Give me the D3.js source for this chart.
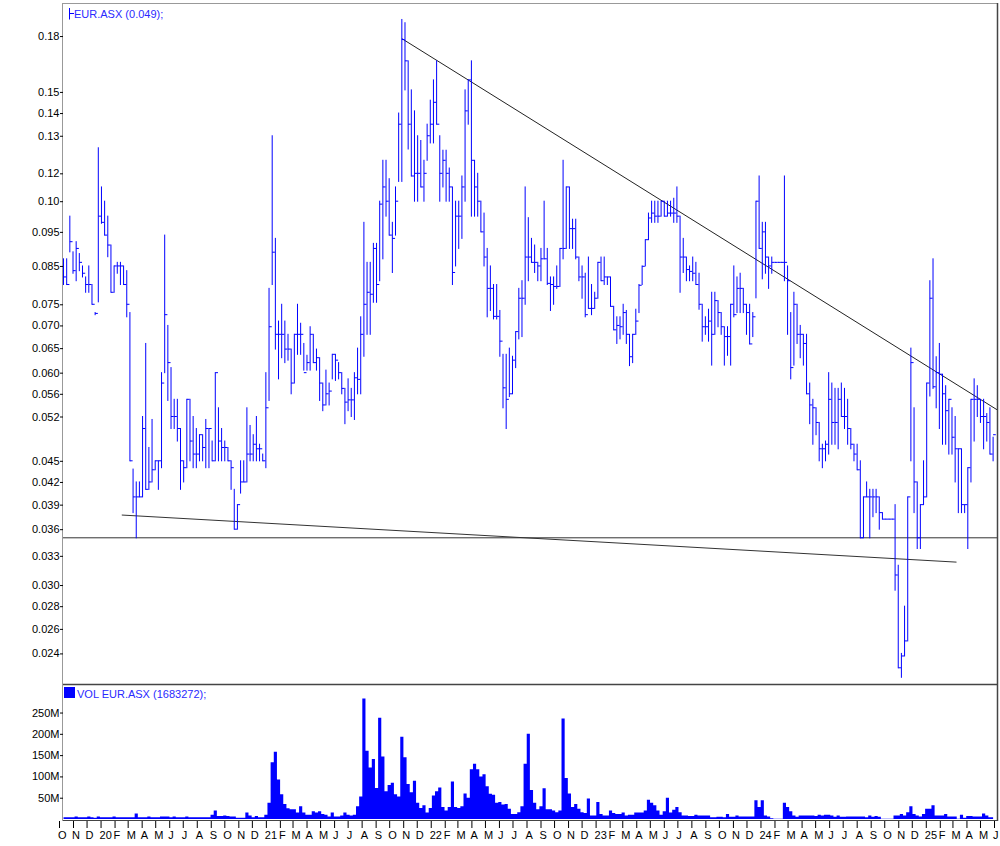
<!DOCTYPE html>
<html><head><meta charset="utf-8">
<script src="https://cdn.jsdelivr.net/npm/d3@7"></script>
<style>
body{margin:0;background:#fff}
svg{display:block}
text{font-family:"Liberation Sans",Arial,sans-serif;font-size:11px}
</style>
</head><body>
<svg id="c" width="1000" height="846"></svg>
<script>
// ---------- DATA (weekly bars, starting week of 2019-10-11) ----------
const firstWeek = [2019, 9, 11];
const highs = [
.087,.087,.100,.089,.092,.0885,.085,.082,.085,.080,
.073,.125,.110,.105,.100,.091,.085,.086,.086,.085,
.0837,.073,.0438,.042,.042,.052,.066,.047,.0515,.045,
.045,.060,.094,.070,.061,.055,.055,.050,.045,.055,
.055,.052,.050,.049,.049,.0515,.050,.048,.060,.0535,
.050,.048,.047,.045,.041,.039,.045,.045,.0535,.0505,
.049,.052,.0475,.046,.060,.079,.130,.093,.071,.075,
.071,.068,.0648,.068,.075,.0705,.066,.0635,.0697,.068,
.0648,.063,.058,.0605,.058,.0637,.0637,.062,.060,.057,
.0588,.057,.060,.065,.072,.098,.086,.086,.0915,.0915,
.105,.120,.120,.113,.098,.110,.140,.190,.188,.166,
.151,.141,.130,.128,.120,.135,.146,.156,.166,.130,
.124,.124,.117,.110,.105,.105,.114,.151,.156,.166,
.120,.115,.105,.101,.090,.085,.080,.080,.0735,.0637,
.0637,.065,.0633,.0686,.079,.081,.110,.0995,.093,.091,
.086,.090,.105,.090,.082,.082,.085,.090,.120,.110,
.110,.099,.099,.0875,.085,.083,.0875,.080,.078,.086,
.0875,.0875,.082,.082,.0745,.072,.072,.075,.0735,.068,
.068,.0738,.080,.085,.0926,.101,.105,.105,.105,.105,
.105,.105,.105,.106,.110,.100,.093,.0875,.085,.0875,
.086,.083,.075,.072,.0738,.078,.078,.0759,.073,.0697,
.0697,.075,.085,.082,.083,.079,.075,.075,.073,.105,
.114,.098,.098,.0875,.0875,.086,.086,.086,.114,.085,
.073,.078,.075,.070,.068,.068,.058,.055,.0535,.051,
.0475,.048,.060,.058,.057,.057,.058,.057,.055,.050,
.0475,.0475,.045,.040,.042,.041,.041,.041,.040,.038,
.0372,.0372,.0372,.039,.032,.024,.028,.040,.065,.0535,
.042,.039,.045,.058,.081,.087,.0632,.066,.0597,.0575,
.055,.0535,.052,.0468,.0468,.039,.044,.055,.0588,.0575,
.055,.055,.0525,.0535,.0486];
const lows = [
.080,.080,.089,.083,.081,.0837,.082,.078,.078,.075,
.0725,.0756,.0977,.094,.0876,.078,.078,.083,.080,.080,
.072,.045,.038,.035,.040,.040,.041,.041,.042,.0437,
.041,.044,.060,.0548,.050,.050,.048,.041,.042,.044,
.045,.044,.044,.045,.045,.044,.044,.045,.045,.045,
.045,.045,.045,.041,.036,.036,.0405,.042,.042,.045,
.045,.045,.045,.045,.044,.0548,.080,.0648,.0588,.063,
.062,.0625,.056,.058,.0637,.0637,.0605,.0605,.0605,.062,
.0605,.0548,.053,.054,.054,.0588,.0585,.0588,.056,.0508,
.053,.052,.0515,.056,.056,.0633,.068,.068,.0755,.0755,
.081,.087,.100,.094,.0832,.094,.112,.112,.151,.1245,
.114,.105,.105,.110,.105,.120,.127,.127,.135,.105,
.110,.105,.105,.080,.085,.090,.093,.105,.135,.100,
.100,.100,.095,.085,.072,.0735,.0715,.0715,.0633,.0535,
.050,.0555,.056,.061,.067,.0675,.075,.081,.086,.0832,
.081,.081,.087,.080,.0735,.075,.079,.0795,.087,.090,
.090,.090,.087,.081,.0765,.072,.074,.0725,.074,.0765,
.081,.080,.080,.0745,.069,.066,.067,.068,.066,.0614,
.062,.068,.073,.080,.085,.0926,.098,.098,.098,.100,
.100,.100,.100,.098,.098,.078,.0832,.081,.081,.081,
.080,.0738,.0665,.068,.0665,.0615,.068,.0697,.068,.0615,
.0635,.0615,.072,.073,.073,.073,.068,.0659,.0675,.0766,
.090,.0815,.083,.079,.083,.086,.086,.086,.081,.068,
.0588,.0615,.066,.063,.0615,.056,.0508,.0475,.049,.045,
.044,.045,.046,.0475,.0475,.0468,.052,.050,.0475,.0468,
.045,.0437,.035,.035,.040,.035,.0375,.038,.036,.0372,
.0372,.0372,.0372,.0295,.0229,.0222,.0238,.025,.045,.038,
.0338,.0338,.039,.040,.0556,.057,.0535,.050,.0475,.0475,
.046,.046,.042,.038,.038,.038,.0338,.042,.048,.052,
.051,.0468,.048,.046,.045];
const closes = [
.082,.080,.092,.0837,.090,.086,.083,.080,.080,.075,
.0728,.100,.098,.094,.091,.078,.085,.085,.085,.080,
.075,.045,.040,.040,.040,.050,.041,.042,.0437,.045,
.045,.058,.0725,.062,.052,.052,.050,.045,.044,.055,
.048,.046,.046,.049,.047,.050,.050,.045,.060,.048,
.047,.047,.045,.044,.036,.039,.042,.042,.046,.046,
.0475,.0468,.0468,.045,.0535,.0697,.0889,.068,.068,.068,
.0648,.0648,.058,.068,.068,.068,.060,.062,.068,.062,
.063,.058,.054,.056,.0565,.0637,.0625,.060,.057,.0545,
.0549,.0549,.059,.0587,.068,.075,.078,.0775,.090,.080,
.104,.110,.105,.094,.093,.105,.135,.178,.166,.135,
.114,.115,.115,.110,.115,.130,.135,.145,.135,.115,
.120,.115,.110,.0832,.100,.100,.110,.141,.156,.120,
.110,.105,.095,.0875,.079,.079,.0721,.0721,.0665,.0571,
.055,.056,.0625,.0686,.0765,.0765,.0875,.0875,.086,.086,
.085,.087,.087,.0803,.080,.0795,.0795,.090,.090,.110,
.096,.096,.0875,.082,.082,.0725,.074,.074,.0765,.086,
.081,.082,.082,.0745,.069,.070,.0697,.073,.068,.0632,
.068,.071,.0798,.0849,.0926,.0994,.101,.100,.100,.105,
.100,.101,.101,.101,.100,.0875,.0875,.084,.0835,.083,
.080,.075,.0697,.0697,.071,.068,.0759,.073,.0697,.0675,
.0675,.075,.0725,.079,.079,.075,.073,.0659,.072,.105,
.090,.095,.0875,.085,.086,.086,.086,.086,.086,.081,
.061,.075,.068,.068,.066,.056,.054,.0535,.051,.0468,
.0468,.0475,.055,.051,.051,.055,.052,.052,.050,.0475,
.046,.0437,.035,.040,.040,.040,.040,.040,.038,.0372,
.0372,.0372,.0372,.031,.0229,.0238,.025,.040,.062,.042,
.035,.039,.040,.058,.0765,.0573,.060,.0597,.056,.053,
.055,.0486,.0468,.0468,.039,.039,.044,.055,.055,.055,
.052,.052,.051,.046,.049];
const volumesM = [
4,4,4,4,6,4,4,4,6,4,
3,6,4,4,4,4,6,4,4,4,
4,4,4,13,4,4,4,6,4,4,
4,6,6,6,4,6,4,4,4,6,
4,4,4,4,4,4,4,10,20,7,
7,8,7,6,6,3,3,3,15,8,
4,7,4,4,10,38,133,158,93,58,
35,25,23,23,15,30,15,10,10,18,
15,18,12,10,6,15,6,6,8,15,
10,8,10,30,53,283,160,121,141,73,
238,147,65,80,85,58,53,193,145,82,
63,90,38,26,32,15,26,55,65,74,
28,20,28,88,28,26,30,60,50,117,
130,117,100,105,77,59,57,38,40,34,
35,24,12,12,16,30,130,200,68,38,
23,30,72,23,23,20,16,20,236,96,
60,28,35,24,16,14,48,8,8,40,
12,8,8,20,14,12,12,15,8,10,
10,15,15,15,20,45,38,32,20,10,
18,50,15,22,28,16,8,8,7,7,
10,8,8,8,8,4,4,5,5,4,
12,5,5,8,6,6,6,6,6,44,
28,44,8,6,2,0.5,0.5,0.5,38,28,
18,8,5,8,8,8,8,8,7,10,
8,10,10,8,5,8,5,5,6,6,
6,6,6,6,4,8,5,7,5,0.5,
0.5,0.5,0.5,8,8,12,8,16,30,12,
8,6,12,24,24,32,8,8,8,12,
6,6,6,0.5,10,3,7,7,6,6,
6,13,8,4,4];

const priceTickValues = [0.18,0.15,0.14,0.13,0.115,0.105,0.095,0.085,0.075,0.070,0.065,0.060,0.056,0.052,0.045,0.042,0.039,0.036,0.033,0.030,0.028,0.026,0.024];
const priceTickLabels = ["0.18","0.15","0.14","0.13","0.12","0.10","0.095","0.085","0.075","0.070","0.065","0.060","0.056","0.052","0.045","0.042","0.039","0.036","0.033","0.030","0.028","0.026","0.024"];
const volTickValues = [50,100,150,200,250];
const volTickLabels = ["50M","100M","150M","200M","250M"];
const monthTickLabels = ["O","N","D","20","F","M","A","M","J","J","A","S","O","N","D","21","F","M","A","M","J","J","A","S","O","N","D","22","F","M","A","M","J","J","A","S","O","N","D","23","F","M","A","M","J","J","A","S","O","N","D","24","F","M","A","M","J","J","A","S","O","N","D","25","F","M","A","M","J"];
const supportLevel = 0.035;
const lowerTrend = [[[2020,1,17],0.0377],[[2025,2,10],0.03233]];
const upperTrend = [[[2021,9,29],0.1785],[[2025,5,9],0.0531]];
const priceLegend = "EUR.ASX (0.049);";
const volLegend = "VOL EUR.ASX (1683272);";

// ---------- LAYOUT ----------
const L = 63, R = 997.5, PT = 3, PB = 684, VB = 820;
const blue = "#0000ff";
const U = a => new Date(Date.UTC(a[0], a[1], a[2]));
const svg = d3.select("#c");

const x = d3.scaleUtc().domain([U([2019,9,1]), U([2025,5,1])]).range([59, 994]);
const yP = d3.scaleLog().domain([0.02172, 0.2005]).range([PB, PT]);
const yV = d3.scaleLinear().domain([0, 317]).range([819, PB]);
const start = U(firstWeek);
const dates = highs.map((_, i) => d3.utcDay.offset(start, 7 * i));

const defs = svg.append("defs");
defs.append("clipPath").attr("id","cp").append("rect").attr("x",L).attr("y",PT).attr("width",R-L).attr("height",PB-PT);
defs.append("clipPath").attr("id","cv").append("rect").attr("x",L).attr("y",PB).attr("width",R-L).attr("height",VB-PB);

// volume histogram
const area = d3.area().curve(d3.curveStep)
  .x((d, i) => x(dates[i])).y0(yV(0)).y1(d => yV(d));
svg.append("path").attr("d", area(volumesM)).attr("fill", blue).attr("clip-path","url(#cv)");

// trend lines
const tl = svg.append("g").attr("clip-path","url(#cp)").attr("stroke","#222").attr("stroke-width",1).attr("fill","none");
const line = d3.line().x(d => x(U(d[0]))).y(d => yP(d[1]));
tl.append("path").attr("d", line(lowerTrend)).attr("stroke","#333");
tl.append("path").attr("d", line(upperTrend));
tl.append("line").attr("x1",L).attr("x2",R).attr("y1",yP(supportLevel)).attr("y2",yP(supportLevel)).attr("stroke","#333");

// HLC bars
let p = "";
highs.forEach((h, i) => {
  const xi = x(dates[i]);
  p += `M${xi},${yP(h)-0.5}V${yP(lows[i])+0.5}M${xi},${yP(closes[i])}h2.7`;
});
svg.append("path").attr("d", p).attr("stroke", blue).attr("stroke-width", 1).attr("fill","none").attr("clip-path","url(#cp)");

// frames
const fr = svg.append("g").attr("fill","none");
fr.append("line").attr("x1",L).attr("x2",R).attr("y1",PT+0.5).attr("y2",PT+0.5).attr("stroke","#999");
fr.append("line").attr("x1",L-0.5).attr("x2",L-0.5).attr("y1",PT).attr("y2",VB).attr("stroke","#999");
fr.append("line").attr("x1",R).attr("x2",R).attr("y1",PT).attr("y2",VB+1).attr("stroke","#444").attr("stroke-width",1.5);
fr.append("line").attr("x1",L).attr("x2",R).attr("y1",PB+0.5).attr("y2",PB+0.5).attr("stroke","#444").attr("stroke-width",1.5);
fr.append("line").attr("x1",L-0.5).attr("x2",R).attr("y1",VB+0.5).attr("y2",VB+0.5).attr("stroke","#444").attr("stroke-width",1.2);

// axes
function styleAxis(g){
  g.select(".domain").remove();
  g.attr("font-family","'Liberation Sans',Arial,sans-serif").attr("font-size",11);
  g.selectAll("line").attr("stroke","#000");
  g.selectAll("text").attr("fill","#000");
}
svg.append("g").attr("transform",`translate(${L},0)`)
  .call(d3.axisLeft(yP).tickValues(priceTickValues).tickFormat((d,i)=>priceTickLabels[i]).tickSize(3).tickPadding(0.5))
  .call(styleAxis);
svg.append("g").attr("transform",`translate(${L},0)`)
  .call(d3.axisLeft(yV).tickValues(volTickValues).tickFormat((d,i)=>volTickLabels[i]).tickSize(3).tickPadding(0.5))
  .call(styleAxis);
const months = d3.utcMonth.range(U([2019,9,1]), U([2025,6,1]));
const ax = svg.append("g").attr("transform",`translate(0,${VB+1})`)
  .call(d3.axisBottom(x).tickValues(months).tickFormat((d,i)=>monthTickLabels[i]).tickSize(7).tickPadding(3.5))
  .call(styleAxis);
ax.selectAll("text").attr("text-anchor","start").attr("x",-1.5);

// legends
svg.append("path").attr("d","M69.5,8V19.5M69.5,13.5H74").attr("stroke",blue).attr("fill","none");
svg.append("text").attr("x",74).attr("y",17.5).attr("fill","#2a2aff").text(priceLegend);
svg.append("rect").attr("x",64).attr("y",687).attr("width",11).attr("height",11).attr("fill",blue);
svg.append("text").attr("x",77).attr("y",697.5).attr("fill","#2a2aff").text(volLegend);
</script>
</body></html>
